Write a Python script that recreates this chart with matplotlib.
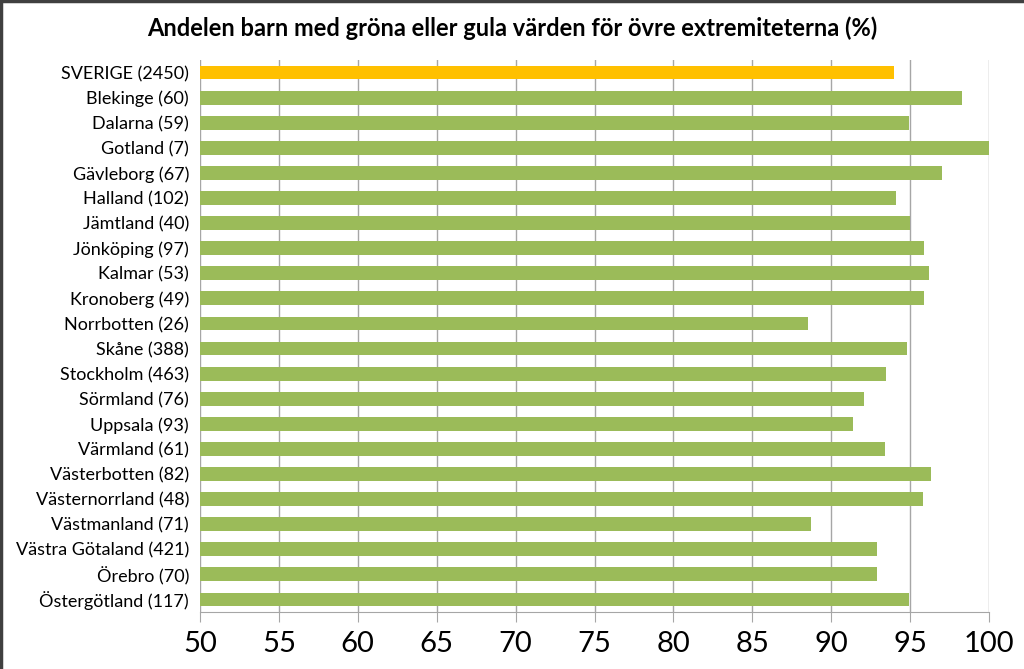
import matplotlib.pyplot as plt
from matplotlib.lines import Line2D

# Data
labels = ['SVERIGE (2450)', 'Blekinge (60)', 'Dalarna (59)', 'Gotland (7)', 'Gävleborg (67)',
          'Halland (102)', 'Jämtland (40)', 'Jönköping (97)', 'Kalmar (53)', 'Kronoberg (49)',
          'Norrbotten (26)', 'Skåne (388)', 'Stockholm (463)', 'Sörmland (76)', 'Uppsala (93)',
          'Värmland (61)', 'Västerbotten (82)', 'Västernorrland (48)', 'Västmanland (71)',
          'Västra Götaland (421)', 'Örebro (70)', 'Östergötland (117)']
values = [94.0, 98.3, 94.9, 100.0, 97.0, 94.1, 95.0, 95.9, 96.2, 95.9,
          88.5, 94.8, 93.5, 92.1, 91.4, 93.4, 96.3, 95.8, 88.7, 92.9, 92.9, 94.9]
ticks = list(range(50, 101, 5))

plt.rcParams['font.family'] = ['Lato', 'DejaVu Sans']

colors = ['#FFC000'] + ['#9BBB59'] * (len(labels) - 1)

fig = plt.figure(figsize=(10.24, 6.69), dpi=100)
ax = fig.add_axes([200 / 1024, 1 - 612 / 669, 789 / 1024, 552 / 669])

y = list(range(len(labels)))
ax.barh(y, [v - 50 for v in values], left=50, height=0.55, color=colors, zorder=3)

ax.set_xlim(50, 100)
ax.set_ylim(len(labels) - 0.5, -0.5)
ax.set_xticks(ticks)
ax.set_xticklabels([str(t) for t in ticks], fontsize=21)
ax.set_yticks(y)
ax.set_yticklabels(labels, fontsize=13)
ax.tick_params(axis='y', length=0, pad=8)
ax.tick_params(axis='x', direction='out', length=7, color='#A6A6A6', pad=7)
ax.xaxis.grid(True, color='#A6A6A6', linewidth=1, zorder=0)

for side in ['top', 'right', 'left']:
    ax.spines[side].set_visible(False)
ax.spines['bottom'].set_color('#A6A6A6')

fig.text(0.5, 1 - 28 / 669, 'Andelen barn med gröna eller gula värden för övre extremiteterna (%)',
         ha='center', va='center', fontsize=17, fontweight='bold')

# dark frame on top and left edges
fig.add_artist(Line2D([0, 1], [0.998, 0.998], transform=fig.transFigure, color='#404040', linewidth=2.5))
fig.add_artist(Line2D([0.001, 0.001], [0, 1], transform=fig.transFigure, color='#404040', linewidth=2.5))

plt.savefig('out.png', dpi=100)
